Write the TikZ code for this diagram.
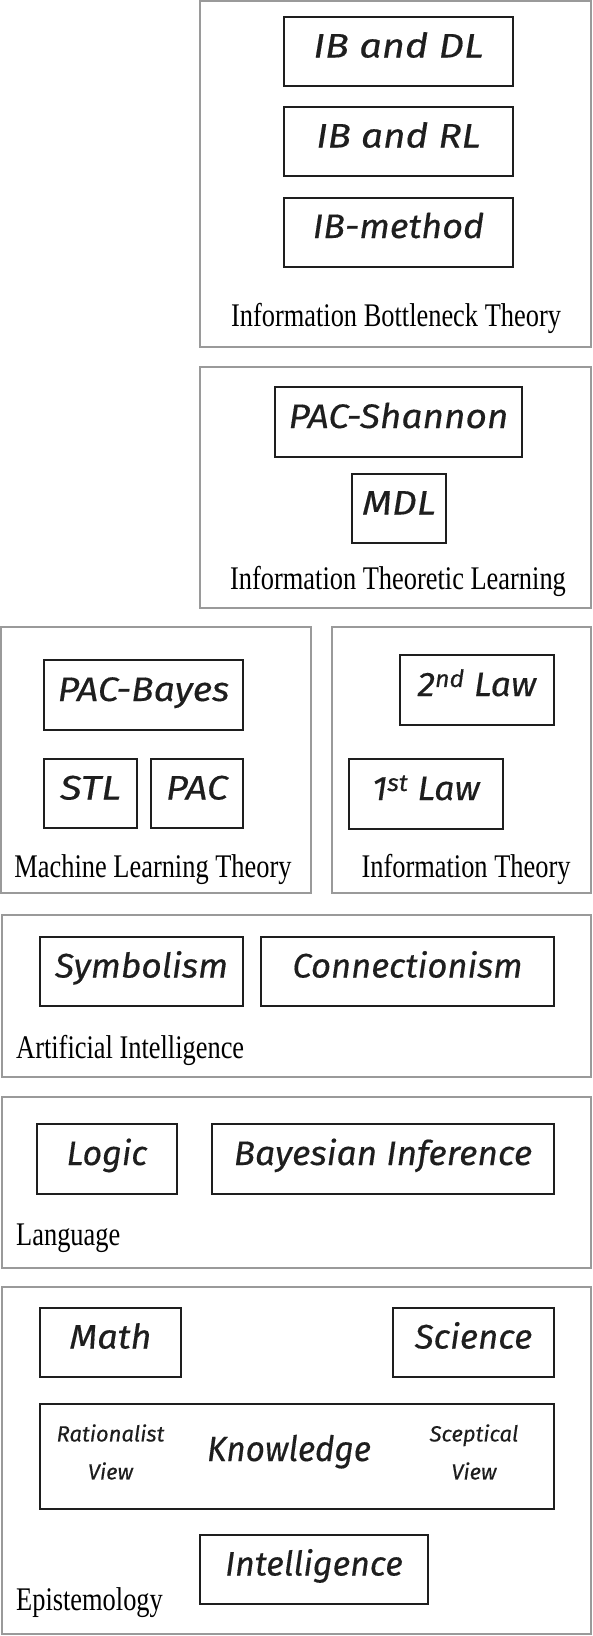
\documentclass[tikz,border=0pt]{standalone}
\usepackage{fontspec}
\setmainfont{Liberation Serif}
\newfontfamily\handfont[FakeBold=0.35]{Fira Sans}
\usetikzlibrary{positioning}

\definecolor{framegray}{HTML}{9A9A9A}
\definecolor{inkdark}{HTML}{1E1E1E}

\tikzset{
  area/.style={draw=framegray, line width=1.3pt},
  idea/.style={draw=inkdark, line width=2pt, inner sep=0pt, text=inkdark,
    text height=23pt, text depth=11pt,
    font=\fontsize{34}{34}\selectfont\handfont\itshape},
  side note/.style={inner sep=0pt, align=center, text=inkdark,
    font=\fontsize{22}{38}\selectfont\handfont\itshape},
  key idea/.style={inner sep=0pt, anchor=base, text=inkdark,
    font=\fontsize{35}{35}\selectfont\handfont\itshape},
  caption/.style={inner sep=0pt, anchor=base, text=black,
    font=\fontsize{33}{33}\selectfont},
  caption left/.style={caption, anchor=base west},
}
% horizontal stretch of a single line of text
\newcommand{\wide}[2]{\scalebox{#1}[1]{#2}}
\newcommand{\narrow}[1]{\scalebox{0.8}[1]{#1}}

\begin{document}
\begin{tikzpicture}[x=1pt, y={(0pt,-1pt)}]
\useasboundingbox (0,0) rectangle (592,1636);

% Information Bottleneck Theory
\draw[area] (200,1) rectangle (591,347);
\node[idea, minimum width=229pt, minimum height=69pt] (ibdl) at (398.5,51.5) {\wide{1.17}{IB and DL}};
\node[idea, minimum width=229pt, minimum height=69pt] (ibrl) at (398.5,141.5) {\wide{1.14}{IB and RL}};
\node[idea, minimum width=229pt, minimum height=69pt] (ibm) at (398.5,232) {\wide{1.06}{IB-method}};
\node[caption] (ibt) at (396,326) {\narrow{Information Bottleneck Theory}};

% Information Theoretic Learning
\draw[area] (200,367) rectangle (591,608);
\node[idea, minimum width=247pt, minimum height=70pt] (pacsh) at (398.5,422) {\wide{1.09}{PAC-Shannon}};
\node[idea, minimum width=94pt, minimum height=69pt] (mdl) at (399,508.5) {\wide{1.14}{MDL}};
\node[caption] (itl) at (398,589) {\narrow{Information Theoretic Learning}};

% Machine Learning Theory
\draw[area] (1,627) rectangle (311,893);
\node[idea, minimum width=199pt, minimum height=70pt] (pacb) at (143.5,695) {\wide{1.1}{PAC-Bayes}};
\node[idea, minimum width=93pt, minimum height=69pt] (stl) at (90.5,793.5) {\wide{1.18}{STL}};
\node[idea, minimum width=92pt, minimum height=69pt] (pac) at (197,793.5) {\wide{1.12}{PAC}};
\node[caption] (mlt) at (153,877) {\narrow{Machine Learning Theory}};

% Information Theory
\draw[area] (332,627) rectangle (591,893);
\node[idea, minimum width=154pt, minimum height=70pt] (law2) at (477,690) {\wide{1.05}{2\textsuperscript{nd} Law}};
\node[idea, minimum width=154pt, minimum height=70pt] (law1) at (426,794) {\wide{1.05}{1\textsuperscript{st} Law}};
\node[caption] (itheory) at (466,877) {\narrow{Information Theory}};

% Artificial Intelligence
\draw[area] (2,915) rectangle (591,1077);
\node[idea, minimum width=203pt, minimum height=69pt] (symb) at (141.5,971.5) {\wide{1.04}{Symbolism}};
\node[idea, minimum width=293pt, minimum height=69pt] (conn) at (407.5,971.5) {\wide{1.02}{Connectionism}};
\node[caption left] (ai) at (16,1058) {\narrow{Artificial Intelligence}};

% Language
\draw[area] (2,1097) rectangle (591,1268);
\node[idea, minimum width=140pt, minimum height=70pt] (logic) at (107,1159) {\wide{1.0}{Logic}};
\node[idea, minimum width=342pt, minimum height=70pt] (bayes) at (383,1159) {\wide{1.04}{Bayesian Inference}};
\node[caption left] (lang) at (16,1245) {\narrow{Language}};

% Epistemology
\draw[area] (2,1287) rectangle (591,1634);
\node[idea, minimum width=141pt, minimum height=69pt] (math) at (110.5,1342.5) {\wide{1.06}{Math}};
\node[idea, minimum width=161pt, minimum height=69pt] (sci) at (473.5,1342.5) {\wide{1.03}{Science}};
\node[idea, minimum width=514pt, minimum height=105pt] (know) at (297,1456.5) {};
\node[key idea] (knowtxt) at (289,1461) {\wide{0.95}{Knowledge}};
\node[side note] (ratv) at (110.5,1452) {Rationalist\\View};
\node[side note] (scev) at (474,1452) {Sceptical\\View};
\node[idea, minimum width=228pt, minimum height=69pt] (intel) at (314,1569.5) {\wide{1.0}{Intelligence}};
\node[caption left] (epi) at (16,1610) {\narrow{Epistemology}};
\end{tikzpicture}
\end{document}
